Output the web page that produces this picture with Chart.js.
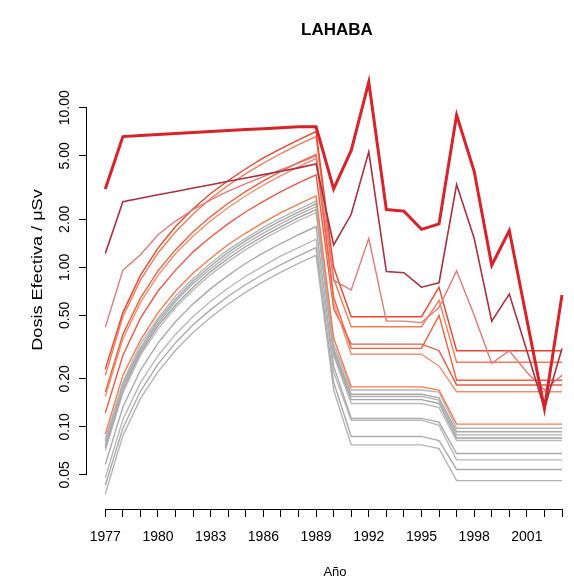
<!DOCTYPE html>
<html>
<head>
<meta charset="utf-8">
<script src="https://cdn.jsdelivr.net/npm/chart.js@4.4.1/dist/chart.umd.min.js"></script>
<style>
  html, body { margin: 0; padding: 0; background: #fff; }
  #wrap { width: 574px; height: 584px; position: relative; }
</style>
</head>
<body>
<div id="wrap"><canvas id="c"></canvas></div>
<script>
// Years of the record
const years = [1977, 1978, 1979, 1980, 1981, 1982, 1983, 1984, 1985, 1986, 1987, 1988, 1989,
               1990, 1991, 1992, 1993, 1994, 1995, 1996, 1997, 1998, 1999, 2000, 2001, 2002, 2003];

// Effective dose per pathway / group (µSv)
const doseMain = [3.1, 6.6, 6.7, 6.8, 6.9, 7.0, 7.1, 7.2, 7.3, 7.4, 7.5, 7.6, 7.6,
                  3.1, 5.4, 14.5, 2.3, 2.25, 1.73, 1.87, 9.0, 4.0, 1.03, 1.7, 0.47, 0.13, 0.67];
const doseB = [1.22, 2.58, 2.71, 2.85, 2.99, 3.14, 3.29, 3.46, 3.63, 3.81, 4.0, 4.2, 4.45,
               1.38, 2.15, 5.3, 0.94, 0.925, 0.75, 0.80, 3.3, 1.52, 0.46, 0.68, 0.30, 0.13, 0.31];
const doseC = [0.42, 0.96, 1.2, 1.6, 1.95, 2.3, 2.65, 3.0, 3.35, 3.7, 4.1, 4.5, 5.0,
               0.83, 0.72, 1.52, 0.46, 0.46, 0.45, 0.56, 0.95, 0.5, 0.25, 0.30, 0.22, 0.17, 0.21];

const doseO1 = [0.23, 0.52, 0.89, 1.32, 1.8, 2.33, 2.9, 3.5, 4.15, 4.85, 5.55, 6.3, 7.1,
                1.0, 0.49, 0.49, 0.49, 0.49, 0.49, 0.75, 0.30, 0.30, 0.30, 0.30, 0.30, 0.30, 0.30];
const doseO2 = [0.21, 0.49, 0.83, 1.23, 1.67, 2.16, 2.7, 3.27, 3.87, 4.5, 5.17, 5.87, 6.6,
                0.85, 0.424, 0.424, 0.424, 0.424, 0.424, 0.62, 0.254, 0.254, 0.254, 0.254, 0.254, 0.254, 0.254];
const doseO3 = [0.165, 0.38, 0.64, 0.95, 1.29, 1.67, 2.08, 2.52, 2.99, 3.48, 4.0, 4.54, 5.1,
                0.65, 0.31, 0.31, 0.31, 0.31, 0.31, 0.50, 0.196, 0.196, 0.196, 0.196, 0.196, 0.196, 0.196];
const doseO4 = [0.155, 0.355, 0.6, 0.89, 1.22, 1.57, 1.96, 2.37, 2.81, 3.28, 3.76, 4.27, 4.8,
                0.6, 0.285, 0.285, 0.285, 0.285, 0.285, 0.24, 0.166, 0.166, 0.166, 0.166, 0.166, 0.166, 0.166];
const doseO5 = [0.122, 0.28, 0.48, 0.71, 0.96, 1.25, 1.55, 1.88, 2.23, 2.59, 2.98, 3.38, 3.8,
                0.55, 0.33, 0.33, 0.33, 0.33, 0.33, 0.30, 0.183, 0.183, 0.183, 0.183, 0.183, 0.183, 0.183];
const doseO6 = [0.09, 0.21, 0.35, 0.52, 0.71, 0.92, 1.14, 1.39, 1.64, 1.91, 2.2, 2.49, 2.8,
                0.36, 0.178, 0.178, 0.178, 0.178, 0.178, 0.17, 0.104, 0.104, 0.104, 0.104, 0.104, 0.104, 0.104];

const doseG1 = [0.084, 0.19, 0.33, 0.48, 0.66, 0.85, 1.06, 1.29, 1.52, 1.78, 2.04, 2.31, 2.6,
                0.33, 0.17, 0.17, 0.17, 0.17, 0.17, 0.165, 0.098, 0.098, 0.098, 0.098, 0.098, 0.098, 0.098];
const doseG2 = [0.081, 0.185, 0.31, 0.465, 0.63, 0.82, 1.02, 1.24, 1.47, 1.71, 1.96, 2.22, 2.5,
                0.31, 0.16, 0.16, 0.16, 0.16, 0.16, 0.152, 0.093, 0.093, 0.093, 0.093, 0.093, 0.093, 0.093];
const doseG3 = [0.077, 0.177, 0.3, 0.446, 0.61, 0.79, 0.98, 1.19, 1.41, 1.64, 1.88, 2.14, 2.4,
                0.30, 0.155, 0.155, 0.155, 0.155, 0.155, 0.147, 0.089, 0.089, 0.089, 0.089, 0.089, 0.089, 0.089];
const doseG4 = [0.074, 0.17, 0.29, 0.43, 0.58, 0.75, 0.94, 1.14, 1.35, 1.57, 1.8, 2.05, 2.3,
                0.29, 0.148, 0.148, 0.148, 0.148, 0.148, 0.14, 0.085, 0.085, 0.085, 0.085, 0.085, 0.085, 0.085];
const doseG5 = [0.071, 0.163, 0.28, 0.41, 0.56, 0.72, 0.9, 1.09, 1.29, 1.5, 1.72, 1.96, 2.2,
                0.28, 0.14, 0.14, 0.14, 0.14, 0.14, 0.132, 0.082, 0.082, 0.082, 0.082, 0.082, 0.082, 0.082];
const doseG6 = [0.058, 0.133, 0.226, 0.335, 0.457, 0.59, 0.735, 0.89, 1.06, 1.23, 1.41, 1.6, 1.8,
                0.24, 0.113, 0.113, 0.113, 0.113, 0.113, 0.107, 0.068, 0.068, 0.068, 0.068, 0.068, 0.068, 0.068];
const doseG7 = [0.048, 0.111, 0.189, 0.279, 0.381, 0.492, 0.613, 0.742, 0.879, 1.02, 1.18, 1.33, 1.5,
                0.22, 0.11, 0.11, 0.11, 0.11, 0.11, 0.102, 0.062, 0.062, 0.062, 0.062, 0.062, 0.062, 0.062];
const doseG8 = [0.043, 0.098, 0.167, 0.247, 0.337, 0.436, 0.543, 0.658, 0.78, 0.908, 1.04, 1.18, 1.33,
                0.19, 0.087, 0.087, 0.087, 0.087, 0.087, 0.082, 0.054, 0.054, 0.054, 0.054, 0.054, 0.054, 0.054];
const doseG9 = [0.038, 0.088, 0.15, 0.221, 0.302, 0.39, 0.486, 0.589, 0.698, 0.812, 0.933, 1.06, 1.19,
                0.17, 0.077, 0.077, 0.077, 0.077, 0.077, 0.073, 0.046, 0.046, 0.046, 0.046, 0.046, 0.046, 0.046];

// Axis tick values
const yTickValues = [0.05, 0.1, 0.2, 0.5, 1, 2, 5, 10];
const xTickYears = [1977, 1978, 1979, 1980, 1981, 1982, 1983, 1984, 1985, 1986, 1987, 1988, 1989,
                    1990, 1991, 1992, 1993, 1994, 1995, 1996, 1997, 1998, 1999, 2000, 2001, 2002, 2003];
const xLabelYears = [1977, 1980, 1983, 1986, 1989, 1992, 1995, 1998, 2001];

// Text
const chartTitle = 'LAHABA';
const xTitle = 'Año';
const yTitle = 'Dosis Efectiva / μSv';

const FONT = "'Liberation Sans', Arial, Helvetica, sans-serif";

// Series list: first entries are drawn on top
const seriesList = [
  { data: doseMain, color: '#d8232a', width: 3.0 },
  { data: doseB,    color: '#a8323f', width: 1.6 },
  { data: doseC,    color: '#e27a7a', width: 1.4 },
  { data: doseO1,   color: '#e9452f', width: 1.4 },
  { data: doseO2,   color: '#f07e5a', width: 1.4 },
  { data: doseO3,   color: '#ee6040', width: 1.4 },
  { data: doseO4,   color: '#f19070', width: 1.4 },
  { data: doseO5,   color: '#ea5a48', width: 1.4 },
  { data: doseO6,   color: '#f47a50', width: 1.4 },
  { data: doseG1,   color: '#b5b5b5', width: 1.4 },
  { data: doseG2,   color: '#a8a8a8', width: 1.4 },
  { data: doseG3,   color: '#b0b0b0', width: 1.4 },
  { data: doseG4,   color: '#a3a3a3', width: 1.4 },
  { data: doseG5,   color: '#bbbbbb', width: 1.4 },
  { data: doseG6,   color: '#aaaaaa', width: 1.4 },
  { data: doseG7,   color: '#b8b8b8', width: 1.4 },
  { data: doseG8,   color: '#ababab', width: 1.4 },
  { data: doseG9,   color: '#b4b4b4', width: 1.4 }
];

const datasets = seriesList.map(s => ({
  data: years.map((yr, i) => ({ x: yr, y: s.data[i] })),
  borderColor: s.color,
  borderWidth: s.width,
  pointRadius: 0,
  tension: 0,
  fill: false
}));

// Axis lines spanning first to last tick, plus the titles placed around the plot region
const axesAndTitles = {
  id: 'axesAndTitles',
  afterDraw(chart) {
    const { ctx, scales: { x, y }, chartArea } = chart;
    ctx.save();
    ctx.strokeStyle = '#000';
    ctx.lineWidth = 1;
    ctx.beginPath();
    const by = Math.round(chartArea.bottom) + 0.5;
    ctx.moveTo(x.getPixelForValue(xTickYears[0]), by);
    ctx.lineTo(x.getPixelForValue(xTickYears[xTickYears.length - 1]), by);
    const lx = Math.round(chartArea.left) - 0.5;
    ctx.moveTo(lx, y.getPixelForValue(yTickValues[0]));
    ctx.lineTo(lx, y.getPixelForValue(yTickValues[yTickValues.length - 1]));
    ctx.stroke();

    // plot-region centre (the region runs past the right edge of the canvas)
    const cx = chartArea.left + 250;
    ctx.fillStyle = '#000';
    ctx.textAlign = 'center';
    ctx.textBaseline = 'middle';

    ctx.font = 'bold 17px ' + FONT;
    ctx.fillText(chartTitle, cx, 30);

    ctx.font = '13px ' + FONT;
    ctx.fillText(xTitle, cx - 2, 572);

    // vertical axis title, drawn along the axis with a slightly widened face
    ctx.translate(38, 270);
    ctx.rotate(-Math.PI / 2);
    ctx.scale(1.25, 1);
    ctx.font = '14.5px ' + FONT;
    ctx.fillText(yTitle, 0, 0);
    ctx.restore();
  }
};

new Chart(document.getElementById('c'), {
  type: 'line',
  data: { datasets },
  options: {
    responsive: true,
    maintainAspectRatio: false,
    animation: false,
    layout: { padding: { left: 0, right: 0, top: 60, bottom: 0 } },
    plugins: {
      legend: { display: false },
      tooltip: { enabled: false },
      title: { display: false }
    },
    scales: {
      x: {
        type: 'linear',
        min: 1975.958,
        max: 2003.394,
        afterFit(scale) { scale.height = 75; },
        afterBuildTicks(scale) { scale.ticks = xTickYears.map(v => ({ value: v })); },
        grid: { display: true, drawOnChartArea: false, drawTicks: true, tickLength: 8, color: '#000', lineWidth: 1 },
        border: { display: false },
        ticks: {
          autoSkip: false,
          maxRotation: 0,
          minRotation: 0,
          padding: 12,
          color: '#000',
          font: { family: FONT, size: 14 },
          callback: (v) => xLabelYears.includes(v) ? String(v) : ''
        }
      },
      y: {
        type: 'logarithmic',
        bounds: 'data',
        min: 0.03052,
        max: 19.94,
        afterFit(scale) { scale.width = 87; },
        afterBuildTicks(scale) { scale.ticks = yTickValues.map(v => ({ value: v })); },
        grid: { display: true, drawOnChartArea: false, drawTicks: true, tickLength: 8, color: '#000', lineWidth: 1 },
        border: { display: false },
        ticks: {
          autoSkip: false,
          minRotation: 90,
          maxRotation: 90,
          crossAlign: 'center',
          padding: -4,
          color: '#000',
          font: { family: FONT, size: 14 },
          callback: (v) => Number(v).toFixed(2)
        }
      }
    }
  },
  plugins: [axesAndTitles]
});
</script>
</body>
</html>
